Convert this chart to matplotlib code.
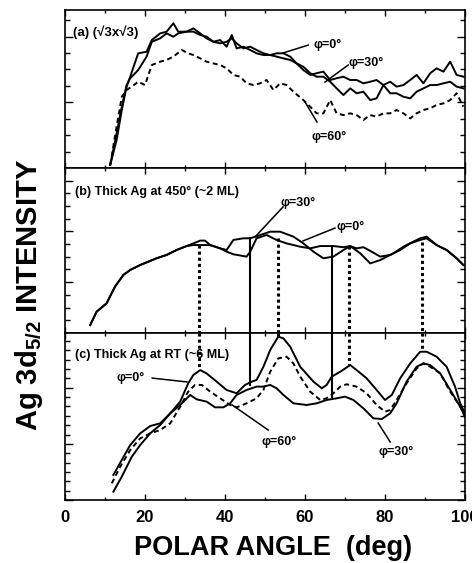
import numpy as np
import matplotlib
matplotlib.use("Agg")
import matplotlib.pyplot as plt
from matplotlib.ticker import MultipleLocator

plt.rcParams['font.family'] = ['Liberation Sans', 'DejaVu Sans']
plt.rcParams['font.weight'] = 'bold'
plt.rcParams['mathtext.fontset'] = 'custom'
plt.rcParams['mathtext.rm'] = 'Liberation Sans:bold'
plt.rcParams['mathtext.bf'] = 'Liberation Sans:bold'
plt.rcParams['mathtext.default'] = 'bf'

# ---- panel (a): sqrt3 x sqrt3 ----
a_x = [11.3, 12.9, 14.2, 15.4, 16.3, 18.3, 20.4, 21.7, 23.8, 25.4, 27.1, 28.3, 30.4, 32.1,
       33.8, 35.4, 37.1, 38.8, 40.4, 41.7, 42.9, 44.6, 46.3, 47.9, 49.6, 51.3, 52.9, 54.6,
       56.3, 57.9, 59.6, 61.3, 62.9, 64.6, 66.3, 67.9, 69.6, 71.3, 72.9, 74.6, 76.3, 77.9,
       79.6, 81.3, 82.9, 84.6, 86.3, 87.9, 89.6, 91.3, 92.9, 94.6, 96.3, 97.9, 99.6]
a_phi0 = [1.9, 17.7, 36.7, 51.5, 57.8, 72.6, 73.6, 81.0, 85.2, 86.3, 91.6, 86.3, 86.3, 86.3,
          84.2, 83.1, 79.9, 81.0, 76.8, 84.2, 75.7, 76.8, 74.7, 72.6, 71.5, 71.5, 72.6, 72.6,
          70.5, 66.2, 62.0, 58.9, 60.0, 61.0, 55.7, 56.8, 57.8, 55.7, 55.7, 53.6, 54.6, 55.7,
          52.5, 54.6, 51.5, 52.5, 55.7, 58.9, 53.6, 60.0, 63.1, 61.0, 67.3, 58.9, 57.8]
a_phi30 = [1.9, 21.9, 38.8, 52.5, 56.8, 62.0, 70.5, 79.9, 82.1, 85.2, 83.1, 85.2, 86.3, 88.4,
           85.2, 82.1, 79.9, 78.9, 79.9, 82.1, 78.9, 75.7, 76.8, 74.7, 72.6, 71.5, 70.5, 69.4,
           68.4, 66.2, 64.1, 60.0, 57.8, 57.8, 54.6, 50.4, 46.2, 50.4, 47.3, 48.3, 43.0, 44.1,
           52.5, 47.3, 47.3, 45.1, 44.1, 48.3, 50.4, 52.5, 52.5, 53.6, 54.6, 51.5, 50.4]
a60_x = [11.3, 12.9, 14.2, 15.4, 16.7, 18.3, 20.0, 21.7, 23.8, 25.4, 27.1, 29.2, 30.8, 32.1,
         33.8, 35.4, 37.1, 38.8, 40.4, 42.1, 43.8, 45.4, 47.1, 48.8, 50.4, 52.1, 53.8, 55.4,
         57.1, 59.6, 61.3, 62.9, 64.6, 66.3, 67.9, 69.6, 71.3, 72.9, 74.6, 76.3, 77.9, 79.6,
         81.3, 82.9, 84.6, 86.3, 87.9, 89.6, 91.3, 92.9, 94.6, 96.3, 97.9, 99.6]
a_phi60 = [1.9, 26.1, 45.1, 49.4, 51.5, 54.6, 52.5, 65.2, 67.3, 68.4, 70.5, 74.7, 72.6, 71.5,
           69.4, 67.3, 66.2, 65.2, 63.1, 58.9, 57.8, 53.6, 52.5, 53.6, 55.7, 49.4, 53.6, 52.5,
           48.3, 43.0, 38.8, 34.6, 34.6, 43.0, 34.6, 33.5, 34.6, 33.5, 30.4, 33.5, 32.5, 34.6,
           34.6, 36.7, 34.6, 31.4, 34.6, 36.7, 37.8, 39.9, 40.9, 43.0, 47.3, 38.8]

# ---- panel (b): thick Ag at 450 (~2 ML) ----
b_x = [6.3, 7.9, 10.4, 12.5, 14.6, 16.3, 18.8, 20.8, 22.9, 25.4, 27.9, 30.4, 32.1, 33.8,
       35.0, 36.3, 38.8, 40.4, 42.1, 44.6, 46.3, 48.8, 51.3, 53.8, 57.1, 59.6, 62.1, 64.6,
       67.1, 69.6, 71.3, 73.8, 76.3, 78.8, 82.1, 84.6, 87.1, 88.8, 90.4, 92.9, 95.4, 97.9, 99.6]
b_phi0 = [4.8, 12.9, 18.0, 28.1, 35.2, 38.2, 41.2, 43.2, 45.3, 47.3, 50.3, 52.7, 54.3, 56.0,
          56.0, 53.3, 51.3, 50.3, 56.4, 57.4, 57.4, 59.4, 61.4, 61.4, 58.4, 54.3, 49.3, 45.3,
          46.3, 50.3, 52.7, 48.3, 42.2, 44.2, 48.3, 52.3, 55.4, 57.4, 58.4, 53.3, 50.3, 45.3, 41.2]
b30_x = [6.3, 7.9, 10.4, 12.5, 14.6, 16.3, 18.8, 20.8, 22.9, 25.4, 27.9, 30.4, 32.1, 33.8,
         36.3, 38.8, 40.4, 42.1, 45.4, 46.3, 47.9, 50.4, 52.9, 55.4, 58.8, 61.3, 63.8, 67.1,
         69.6, 71.3, 72.9, 74.6, 76.3, 78.8, 81.3, 83.8, 86.3, 88.8, 90.4, 92.9, 95.4, 97.9, 99.6]
b_phi30 = [4.8, 12.9, 18.0, 28.1, 35.2, 38.2, 41.2, 43.2, 45.3, 47.3, 50.3, 52.7, 53.3, 53.3,
           53.3, 51.3, 49.3, 47.7, 46.3, 49.3, 57.4, 59.4, 56.4, 54.3, 52.3, 51.3, 52.7, 52.7,
           52.0, 52.7, 51.3, 52.0, 49.8, 46.3, 47.3, 50.3, 54.3, 56.4, 57.4, 53.3, 50.3, 45.3, 41.2]

# ---- panel (c): thick Ag at RT (~6 ML) ----
c0_x = [12.1, 14.2, 16.3, 18.8, 21.3, 23.8, 26.3, 28.8, 30.8, 32.1, 33.8, 35.4, 37.9, 40.4,
        42.9, 45.0, 46.7, 47.9, 49.6, 51.3, 53.3, 54.6, 56.3, 58.8, 62.1, 64.2, 65.4, 66.7,
        68.8, 71.3, 72.9, 75.4, 77.9, 80.0, 81.7, 83.8, 86.3, 88.8, 90.4, 92.9, 95.4, 97.5,
        98.8, 100.0]
c_phi0 = [15.0, 24.0, 32.9, 39.9, 44.3, 45.9, 51.9, 58.9, 69.9, 74.9, 77.8, 75.8, 70.9, 65.9,
          63.9, 68.9, 70.9, 71.9, 79.8, 89.8, 97.8, 96.8, 91.8, 79.8, 70.9, 66.9, 68.9, 73.9,
          76.8, 80.8, 77.8, 72.9, 65.9, 59.9, 62.9, 72.9, 81.8, 88.8, 88.8, 85.8, 79.8, 67.9,
          57.9, 51.9]
c60_x = [11.7, 13.8, 16.3, 18.8, 21.3, 23.8, 26.3, 28.8, 30.8, 32.5, 34.2, 36.3, 38.8, 41.3,
         42.9, 45.4, 47.9, 49.6, 51.3, 53.3, 55.4, 57.1, 58.8, 61.3, 63.8, 65.4, 67.1, 68.8,
         70.4, 72.9, 75.4, 77.9, 80.0, 81.3, 82.9, 85.4, 87.9, 89.6, 91.3, 93.8, 96.3, 98.8, 100.0]
c_phi60 = [10.0, 19.9, 29.9, 36.9, 39.9, 41.9, 45.9, 55.9, 64.9, 68.9, 68.9, 64.9, 60.9, 56.9,
           55.5, 57.9, 60.9, 65.9, 76.8, 84.8, 85.8, 81.8, 73.9, 64.9, 59.9, 60.9, 63.9, 67.9,
           69.3, 67.9, 63.9, 56.9, 52.9, 53.9, 59.9, 69.9, 78.8, 81.8, 79.8, 75.8, 64.9, 55.9, 49.9]
c30_x = [12.1, 14.2, 16.7, 18.8, 21.3, 23.8, 26.3, 28.8, 31.3, 32.9, 35.4, 37.5, 39.6, 41.3,
         42.9, 45.4, 47.9, 49.6, 51.3, 52.9, 54.6, 57.1, 60.4, 62.9, 65.4, 67.9, 70.0, 72.1,
         74.6, 77.1, 79.2, 81.3, 82.9, 85.4, 87.9, 89.6, 91.3, 93.8, 96.3, 98.8, 100.0]
c_phi30 = [5.0, 14.0, 25.9, 32.9, 39.9, 44.9, 51.9, 56.9, 62.9, 60.3, 58.9, 55.5, 55.5, 57.9,
           62.9, 65.9, 67.9, 67.9, 68.9, 66.9, 62.9, 57.9, 56.9, 57.9, 59.9, 60.9, 61.9, 59.9,
           54.9, 48.9, 48.5, 51.9, 57.9, 70.9, 79.8, 81.8, 80.8, 75.8, 65.9, 55.9, 49.9]

# vertical guide lines: x position, level in (b), level in (c), style
guide_x = [33.6, 46.3, 53.3, 66.7, 71.1, 89.2]
guide_b = [53.3, 57.6, 57.6, 51.5, 52.7, 55.2]
guide_c = [77.8, 68.9, 97.6, 61.7, 80.8, 89.8]
guide_solid = [False, True, False, True, False, False]

xticks = [0, 20, 40, 60, 80, 100]

fig = plt.figure(figsize=(4.72, 5.63), dpi=100)
left, width = 0.1377, 0.8475
axa = fig.add_axes([left, 0.7016, width, 0.2806])
axb = fig.add_axes([left, 0.4085, width, 0.2931])
axc = fig.add_axes([left, 0.1119, width, 0.2966])

dash = (0, (2.6, 1.8))
lw = 1.4

axa.plot(a_x, a_phi0, color='k', lw=lw)
axa.plot(a_x, a_phi30, color='k', lw=lw)
axa.plot(a60_x, a_phi60, color='k', lw=lw, linestyle=dash)

axb.plot(b_x, b_phi0, color='k', lw=lw)
axb.plot(b30_x, b_phi30, color='k', lw=lw)

axc.plot(c0_x, c_phi0, color='k', lw=lw)
axc.plot(c60_x, c_phi60, color='k', lw=lw, linestyle=dash)
axc.plot(c30_x, c_phi30, color='k', lw=lw)

for gx, gb, gc, solid in zip(guide_x, guide_b, guide_c, guide_solid):
    ls = '-' if solid else (0, (1.0, 1.0))
    glw = 1.5 if solid else 2.2
    axb.plot([gx, gx], [gb, 0], color='k', lw=glw, linestyle=ls)
    axc.plot([gx, gx], [100, gc], color='k', lw=glw, linestyle=ls)

tfont = dict(fontsize=9, fontweight='bold')
axa.text(2, 86, '(a) (\u221a3x\u221a3)', ha='left', va='center', fontsize=9.5, fontweight='bold')
axa.text(62, 77.8, '\u03c6=0\u00b0', ha='left', va='center', **tfont)
axa.plot([60.8, 54.5], [77.8, 72.8], color='k', lw=1.1)
axa.text(75.3, 66.5, '\u03c6=30\u00b0', ha='center', va='center', **tfont)
axa.plot([70.8, 65.0], [65.2, 54.4], color='k', lw=1.1)
axa.text(66, 19.6, '\u03c6=60\u00b0', ha='center', va='center', **tfont)
axa.plot([63.0, 60.0], [29.1, 41.8], color='k', lw=1.1)

axb.text(2.5, 85.5, '(b) Thick Ag at 450\u00b0 (~2 ML)', ha='left', va='center', **tfont)
axb.text(58.3, 78.8, '\u03c6=30\u00b0', ha='center', va='center', **tfont)
axb.plot([54.5, 47.5], [76.4, 58.2], color='k', lw=1.1)
axb.text(71.5, 64.2, '\u03c6=0\u00b0', ha='center', va='center', **tfont)
axb.plot([67.5, 59.5], [63.6, 55.8], color='k', lw=1.1)

axc.text(2.5, 86.8, '(c) Thick Ag at RT (~6 ML)', ha='left', va='center', **tfont)
axc.text(16.5, 73, '\u03c6=0\u00b0', ha='center', va='center', **tfont)
axc.plot([21.8, 30.5], [73.0, 70.7], color='k', lw=1.1)
axc.text(53.5, 34.7, '\u03c6=60\u00b0', ha='center', va='center', **tfont)
axc.plot([50.8, 41.8], [41.9, 56.9], color='k', lw=1.1)
axc.text(82.8, 28.7, '\u03c6=30\u00b0', ha='center', va='center', **tfont)
axc.plot([81.3, 78.3], [34.7, 46.1], color='k', lw=1.1)

minor_y = {axa: (10.4, 41.6), axb: (7.7, 30.8), axc: (5.6, 33.6)}
for ax in (axa, axb, axc):
    ax.set_xlim(0, 100)
    ax.set_ylim(0, 100)
    for s in ax.spines.values():
        s.set_linewidth(1.2)
    ax.xaxis.set_major_locator(MultipleLocator(20))
    ax.xaxis.set_minor_locator(MultipleLocator(10))
    mn, mj = minor_y[ax]
    ax.yaxis.set_major_locator(MultipleLocator(mj))
    ax.yaxis.set_minor_locator(MultipleLocator(mn))
    ax.tick_params(which='both', direction='in', top=True, right=True, width=1.0)
    ax.tick_params(axis='y', which='major', length=6)
    ax.tick_params(axis='y', which='minor', length=3.5)
    ax.tick_params(axis='x', which='major', length=4)
    ax.tick_params(axis='x', which='minor', length=2.5)
    ax.set_yticklabels([])
    ax.set_xticklabels([])

axc.set_xticks(xticks)
axc.set_xticklabels([str(t) for t in xticks], fontsize=12, fontweight='bold')
axc.tick_params(axis='x', which='major', pad=7)

fig.text(0.062, 0.476, 'Ag 3d$_{5/2}$ INTENSITY', rotation=90, ha='center', va='center',
         fontsize=21, fontweight='bold')
fig.text(0.578, 0.026, 'POLAR ANGLE  (deg)', ha='center', va='center',
         fontsize=19.5, fontweight='bold')

fig.savefig('out.png', dpi=100)
